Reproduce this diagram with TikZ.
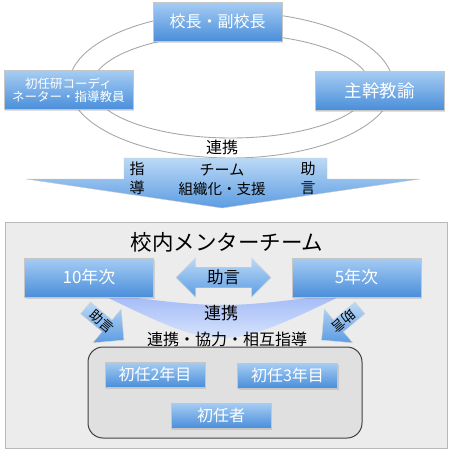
\documentclass[tikz,border=0pt]{standalone}
\usepackage{fontspec}
\setmainfont{Noto Sans CJK JP}
\usetikzlibrary{shapes.arrows,shadows}
\definecolor{boxtop}{HTML}{A6CDF3}
\definecolor{boxbot}{HTML}{4A8EDA}
\definecolor{arrtop}{HTML}{BCD9F6}
\definecolor{arrbot}{HTML}{5C9CE2}
\definecolor{ringline}{HTML}{A8A8A8}
\definecolor{panel}{HTML}{ECECEC}
\definecolor{inner}{HTML}{E0E0E0}
\newcommand{\fs}[1]{\fontsize{#1}{#1}\selectfont}
\begin{document}
\begin{tikzpicture}[x=1pt,y=-1pt]
    \tikzstyle{bluebox}=[rectangle,draw=gray!45,top color=boxtop,bottom color=boxbot,text=white,inner sep=0pt,drop shadow={opacity=0.25,shadow xshift=1pt,shadow yshift=-1.5pt}]
    \tikzstyle{bigbox}=[bluebox,minimum width=129pt,minimum height=39pt]
    \tikzstyle{smallbox}=[bluebox,minimum width=100pt,minimum height=25pt,font=\fs{16}]
    \tikzstyle{label}=[inner sep=0pt,text=black]
    \tikzstyle{pointer}=[single arrow,draw=gray!35,top color=arrtop,bottom color=arrbot,minimum height=50pt,minimum width=44pt,single arrow head extend=12pt,inner sep=0pt,font=\fs{13.5}]
    \useasboundingbox (0,0) rectangle (450,455);
    % upper part
    \draw[ringline,line width=0.9pt] (231,85) ellipse [x radius=162,y radius=73];
    \draw[ringline,line width=0.9pt] (231,86) ellipse [x radius=139,y radius=52];
    \node[bigbox,font=\fs{16}] (head) at (217.5,21.5) {校長・副校長};
    \node[bigbox,align=center,font=\fs{12.5}] (coord) at (68.5,90) {初任研コーディ\\[1pt]ネーター・指導教員};
    \node[bigbox,font=\fs{17.5}] (chief) at (379.5,90.5) {主幹教諭};
    \node[label,font=\fs{16}] (link) at (222,147) {連携};
    \shade[top color=arrtop,bottom color=arrbot,draw=gray!45] (124,158) -- (327,158) -- (327,179) -- (420,179) -- (222,208) -- (26,179) -- (124,179) -- cycle;
    \node[label,align=center,font=\fs{15}] (guide) at (137,178) {指\\[4pt]導};
    \node[label,align=center,font=\fs{15}] (advice) at (308,178) {助\\[4pt]言};
    \node[label,font=\fs{15}] (team) at (222,170) {チーム};
    \node[label,font=\fs{14.5}] (support) at (222,189) {組織化・支援};
    % lower part
    \draw[gray!55,fill=panel] (5,222) rectangle (447,448);
    \node[label,font=\fs{21.5}] (title) at (227,242) {校内メンターチーム};
    \shade[top color=arrtop!85!blue,bottom color=arrtop!35] (98,293) .. controls (222,309) .. (347,293) .. controls (222,353) .. (98,293) -- cycle;
    \node[label,font=\fs{17}] (bandtext) at (221,313) {連携};
    \node[bigbox,font=\fs{17}] (ten) at (89,277.5) {10年次};
    \node[bigbox,font=\fs{17}] (five) at (356.5,277.5) {5年次};
    \node[double arrow,draw=gray!35,top color=arrtop,bottom color=arrbot,minimum height=95pt,minimum width=39pt,double arrow head extend=7pt,inner sep=0pt,font=\fs{16.5}] (mutual) at (223.5,277.5) {助言};
    \node[pointer,rotate=-40] (leftadv) at (101.8,321.5) {助言};
    \node[pointer,rotate=-140] (rightadv) at (343.7,321.5) {助言};
    \node[label,font=\fs{16}] (coop) at (227,339) {連携・協力・相互指導};
    \draw[rounded corners=15pt,draw=black!75,line width=1pt,fill=inner] (88,347) rectangle (362,438);
    \node[smallbox] (second) at (155,374.5) {初任2年目};
    \node[smallbox] (third) at (287.5,375.5) {初任3年目};
    \node[smallbox] (first) at (221,415.5) {初任者};
\end{tikzpicture}
\end{document}
